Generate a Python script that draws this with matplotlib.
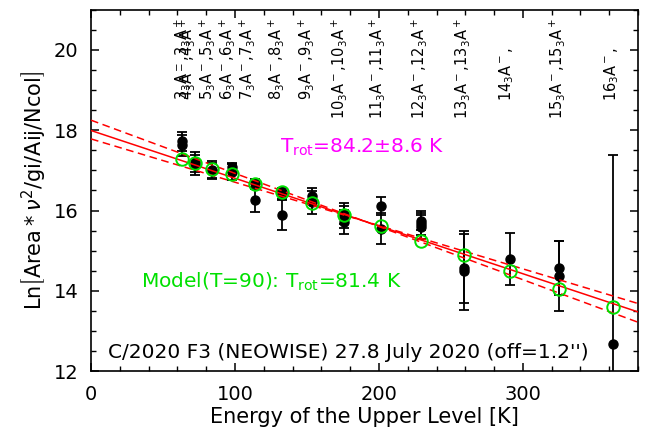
import numpy as np
import matplotlib
matplotlib.use("Agg")
import matplotlib.pyplot as plt

# model (green open circles)
e_mod = [63.0, 72.2, 83.8, 97.7, 113.9, 132.4, 153.3, 176.0, 201.4, 229.0, 258.8, 291.2, 325.2, 362.5]
y_mod = [17.28, 17.18, 17.03, 16.91, 16.66, 16.45, 16.19, 15.90, 15.61, 15.24, 14.89, 14.49, 14.05, 13.60]

# observed points (black, with error bars)
e_obs = [63.0, 63.0, 72.2, 72.2, 83.8, 83.8, 97.7, 97.7, 113.9, 113.9,
         132.4, 132.4, 132.4, 153.3, 153.3, 176.0, 176.0, 176.0,
         201.4, 201.4, 229.0, 229.0, 229.0, 258.8, 258.8, 291.2,
         325.2, 325.2, 362.5]
y_obs = [17.72, 17.62, 17.20, 17.13, 17.02, 16.98, 17.08, 16.96, 16.69, 16.25,
         16.47, 16.38, 15.89, 16.37, 16.20, 15.92, 15.84, 15.71,
         16.11, 15.55, 15.75, 15.67, 15.59, 14.50, 14.56, 14.79,
         14.57, 14.37, 12.68]
err_obs = [0.24, 0.27, 0.25, 0.25, 0.20, 0.20, 0.11, 0.20, 0.10, 0.29,
           0.08, 0.10, 0.37, 0.20, 0.28, 0.26, 0.27, 0.30,
           0.22, 0.39, 0.24, 0.27, 0.30, 0.98, 0.86, 0.65,
           0.67, 0.87, 4.70]

# transition labels along the top
line_labels = [r"3$_3$A$^-$,3$_3$A$^+$", r"4$_3$A$^-$,4$_3$A$^+$", r"5$_3$A$^-$,5$_3$A$^+$",
               r"6$_3$A$^-$,6$_3$A$^+$", r"7$_3$A$^-$,7$_3$A$^+$", r"8$_3$A$^-$,8$_3$A$^+$",
               r"9$_3$A$^-$,9$_3$A$^+$", r"10$_3$A$^-$,10$_3$A$^+$", r"11$_3$A$^-$,11$_3$A$^+$",
               r"12$_3$A$^-$,12$_3$A$^+$", r"13$_3$A$^-$,13$_3$A$^+$", r"14$_3$A$^-$,       ",
               r"15$_3$A$^-$,15$_3$A$^+$", r"16$_3$A$^-$,       "]
label_e = [66.7, 70.6, 84.5, 97.9, 112.3, 132.0, 152.8, 175.9, 202.6, 231.5, 261.6, 291.7, 327.6, 364.6]

# rotational fit
intercept = 17.99
t_rot = 84.2
t_err = 8.6
e_pivot = 190.0

plt.rcParams['font.family'] = 'DejaVu Sans'
plt.rcParams['mathtext.fontset'] = 'dejavusans'

fig = plt.figure(figsize=(6.52, 4.32), dpi=100)
ax = fig.add_axes([0.1396, 0.1405, 0.839, 0.8375])

ax.errorbar(e_obs, y_obs, yerr=err_obs, fmt='o', color='black', ms=6.5,
            elinewidth=1.3, capsize=3.8, capthick=1.3, zorder=2)

xx = np.array([0, 380])
yy = intercept - xx / t_rot
ax.plot(xx, yy, color='red', lw=1.1, zorder=3)
y_piv = intercept - e_pivot / t_rot
for t in [t_rot - t_err, t_rot + t_err]:
    ax.plot(xx, y_piv - (xx - e_pivot) / t, color='red', lw=1.1, ls=(0, (5, 3)), zorder=3)

ax.plot(e_mod, y_mod, 'o', mfc='none', mec='#00e000', ms=9, mew=1.4, zorder=4)

for e, lab in zip(label_e, line_labels):
    ax.text(e, 20.8, lab, rotation=90, rotation_mode='anchor', ha='right', va='baseline',
            fontsize=10.5, color='black')

ax.text(131, 17.56, r"T$_{\rm rot}$=84.2$\pm$8.6 K", color='#ff00ff', fontsize=14.5, va='center')
ax.text(35, 14.22, r"Model(T=90): T$_{\rm rot}$=81.4 K", color='#00e000', fontsize=14.5, va='center')
ax.text(12, 12.47, "C/2020 F3 (NEOWISE) 27.8 July 2020 (off=1.2'')", color='black',
        fontsize=14.5, va='center')

ax.set_xlim(0, 380)
ax.set_ylim(12, 21)
ax.set_xticks([0, 100, 200, 300])
ax.set_xticks(np.arange(0, 381, 20), minor=True)
ax.set_yticks([12, 14, 16, 18, 20])
ax.set_yticks(np.arange(12, 21.01, 0.5), minor=True)
ax.tick_params(which='both', direction='in', top=True, right=True, labelsize=14)
ax.tick_params(which='major', length=6, width=1.1)
ax.tick_params(which='minor', length=3.5, width=1.0)
ax.tick_params(axis='x', pad=10)
ax.tick_params(axis='y', pad=9)
for s in ax.spines.values():
    s.set_linewidth(1.2)

ax.set_xlabel("Energy of the Upper Level [K]", fontsize=15, labelpad=2)
ax.set_ylabel(r"Ln$\left[\mathrm{Area}*\nu^2/\mathrm{gi}/\mathrm{Aij}/\mathrm{Ncol}\right]$",
              fontsize=15, labelpad=4)

fig.savefig("out.png", dpi=100)
